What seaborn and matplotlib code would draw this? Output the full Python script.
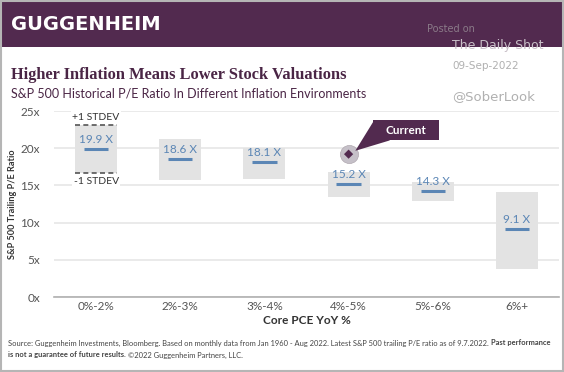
import matplotlib
matplotlib.use("Agg")
import matplotlib.pyplot as plt
import matplotlib.patches as mpatches
import numpy as np
import pandas as pd
import seaborn as sns

categories = ["0%-2%", "2%-3%", "3%-4%", "4%-5%", "5%-6%", "6%+"]
means = [19.9, 18.6, 18.1, 15.2, 14.3, 9.1]
lower = [16.6, 15.7, 15.8, 13.4, 12.9, 3.8]
upper = [23.1, 21.3, 20.0, 16.8, 15.5, 14.1]
current_cat = "4%-5%"
current_value = 19.2
yticks = [0, 5, 10, 15, 20, 25]
ytick_labels = ["0x", "5x", "10x", "15x", "20x", "25x"]

PURPLE = "#522a4f"
BLUE = "#5b86b5"
BOXGRAY = "#e3e3e3"
TXTGRAY = "#555555"

sns.set_theme(style="white")
plt.rcParams["font.family"] = ["Lato", "DejaVu Sans"]

fig = plt.figure(figsize=(5.64, 3.72), dpi=100)
fig.patch.set_facecolor("white")

# header band
fig.add_artist(mpatches.Rectangle((0, 1 - 47 / 372), 1, 47 / 372, transform=fig.transFigure,
                                  facecolor=PURPLE, edgecolor="none", zorder=0))
# border
fig.add_artist(mpatches.Rectangle((0.001, 0.002), 0.997, 0.996, transform=fig.transFigure,
                                  facecolor="none", edgecolor="#b5b5b5", lw=1.5, zorder=10))

fig.text(11 / 564, 1 - 24.5 / 372, "GUGGENHEIM", color="white", fontsize=14, fontweight="bold",
         va="center", ha="left", family=["DejaVu Sans"])
fig.text(11 / 564, 1 - 75 / 372, "Higher Inflation Means Lower Stock Valuations", color="#4a2545",
         fontsize=11.8, fontweight="bold", va="center", ha="left", family=["Liberation Serif"])
fig.text(11 / 564, 1 - 94 / 372, "S&P 500 Historical P/E Ratio In Different Inflation Environments",
         color="#4a2545", fontsize=9, va="center", ha="left")

# watermark
fig.text(427 / 564, 1 - 29 / 372, "Posted on", color="#8a7a88", fontsize=7, va="center", family=["DejaVu Sans"])
fig.text(452 / 564, 1 - 45 / 372, "The Daily Shot", color="#c9c0c8", fontsize=9, va="center", family=["DejaVu Sans"])
fig.text(452 / 564, 1 - 66 / 372, "09-Sep-2022", color="#b0b0b0", fontsize=7.5, va="center", family=["DejaVu Sans"])
fig.text(452 / 564, 1 - 97 / 372, "@SoberLook", color="#b0b0b0", fontsize=9.5, va="center", family=["DejaVu Sans"])

ax = fig.add_axes([54 / 564, 1 - 297 / 372, 505 / 564, 186 / 372])

df = pd.DataFrame({"cat": categories, "mean": means, "lower": lower, "upper": upper})
df["height"] = df["upper"] - df["lower"]

sns.barplot(data=df, x="cat", y="height", bottom=df["lower"].values, order=categories,
            color=BOXGRAY, saturation=1, width=0.5, ax=ax, zorder=2, edgecolor="none")

for i, (m, lo, hi) in enumerate(zip(means, lower, upper)):
    ax.hlines(m, i - 0.145, i + 0.145, color=BLUE, lw=2.2, zorder=4)
    ax.text(i, m + 0.55, f"{m:.1f} X", color=BLUE, fontsize=8.5, ha="center", va="bottom", zorder=5)

# stdev dashed lines on first box
ax.hlines([upper[0], lower[0]], -0.25, 0.25, color="#555555", lw=1.2, linestyles=(0, (3, 2)), zorder=4)
ax.text(0, upper[0] + 0.45, "+1 STDEV", fontsize=7.5, color="#333333", ha="center", va="bottom",
        zorder=5, bbox=dict(facecolor="white", edgecolor="none", pad=1))
ax.text(0, lower[0] - 0.45, "-1 STDEV", fontsize=7.5, color="#333333", ha="center", va="top",
        zorder=5, bbox=dict(facecolor="white", edgecolor="none", pad=1))

# current marker
ci = categories.index(current_cat)
sns.scatterplot(x=[ci], y=[current_value], s=170, color="#c5c0c8", edgecolor="#b0a8b0",
                linewidth=0.5, ax=ax, zorder=6, legend=False)
sns.scatterplot(x=[ci], y=[current_value], s=22, marker="D", color=PURPLE, edgecolor="none",
                ax=ax, zorder=7, legend=False)
# callout
bx0, bx1, by0, by1 = ci + 0.29, ci + 1.07, 21.05, 23.8
ax.add_patch(mpatches.Rectangle((bx0, by0), bx1 - bx0, by1 - by0, facecolor=PURPLE,
                                edgecolor="none", zorder=8, clip_on=False))
ax.add_patch(mpatches.Polygon([(bx0, by1 - 0.3), (bx0 + 0.2, by0), (ci + 0.08, current_value + 0.45)],
                              closed=True, facecolor=PURPLE, edgecolor="none", zorder=8, clip_on=False))
ax.text((bx0 + bx1) / 2, (by0 + by1) / 2, "Current", color="white", fontsize=8.5, fontweight="bold",
        ha="center", va="center", zorder=9)

ax.set_xlim(-0.5, len(categories) - 0.5)
ax.set_ylim(0, 25)
ax.set_yticks(yticks)
ax.set_yticklabels(ytick_labels, color=TXTGRAY, fontsize=8.5)
ax.tick_params(axis="x", colors=TXTGRAY, labelsize=8.5, length=0, pad=3)
ax.tick_params(axis="y", length=0, pad=10)
ax.yaxis.grid(True, color="#e6e6e6", lw=1.2, zorder=0)
ax.set_axisbelow(True)
for s in ["top", "right", "left"]:
    ax.spines[s].set_visible(False)
ax.spines["bottom"].set_color("#b0b0b0")
ax.spines["bottom"].set_linewidth(1.2)
ax.set_xlabel("Core PCE YoY %", fontsize=8.5, color="#333333", fontweight="bold", labelpad=2)
ax.set_ylabel("S&P 500 Trailing P/E Ratio", fontsize=6.6, color="#333333", fontweight="bold")
ax.yaxis.set_label_coords(-(54 - 17) / 505, 0.5)

# footer
FS = 5.45
t1 = fig.text(8 / 564, 1 - 343 / 372,
              "Source: Guggenheim Investments, Bloomberg. Based on monthly data from Jan 1960 - Aug 2022. "
              "Latest S&P 500 trailing P/E ratio as of 9.7.2022.",
              fontsize=FS, color="#444444", va="center", ha="left")
t2 = fig.text(8 / 564, 1 - 355 / 372, "is not a guarantee of future results.",
              fontsize=FS, color="#444444", va="center", ha="left", fontweight="bold")
fig.canvas.draw()
r = fig.canvas.get_renderer()
bb1 = t1.get_window_extent(r)
bb2 = t2.get_window_extent(r)
fig.text((bb1.x1 + 2) / 564, 1 - 343 / 372, "Past performance", fontsize=FS, color="#444444",
         va="center", ha="left", fontweight="bold")
fig.text((bb2.x1 + 2) / 564, 1 - 355 / 372, "\u00a92022 Guggenheim Partners, LLC.",
         fontsize=FS, color="#444444", va="center", ha="left")

fig.savefig("out.png", dpi=100, facecolor="white")
